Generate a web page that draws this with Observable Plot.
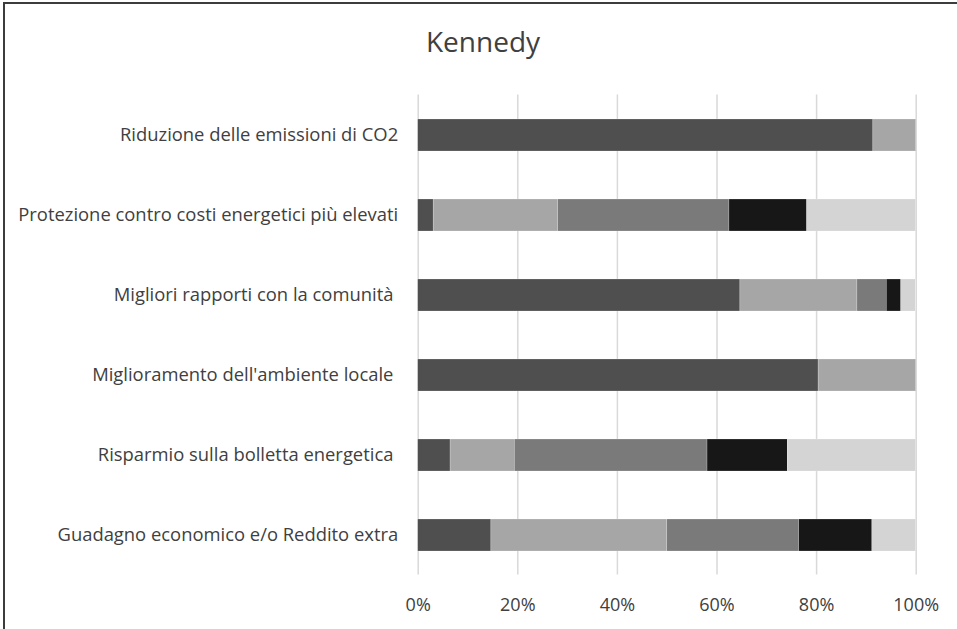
<!DOCTYPE html>
<html>
<head>
<meta charset="utf-8">
<script src="https://cdn.jsdelivr.net/npm/d3@7"></script>
<script src="https://cdn.jsdelivr.net/npm/@observablehq/plot@0.6"></script>
<style>
  html, body { margin: 0; padding: 0; background: #fff; overflow: hidden; }
  #wrap { position: relative; width: 957px; height: 629px; overflow: hidden; background: #fff; }
  #frame { position: absolute; left: 3px; top: 2px; width: 1200px; height: 900px; border-left: 2px solid #3c3c3c; border-top: 2px solid #3c3c3c; }
  #title { position: absolute; left: 0; width: 966px; top: 22px; text-align: center; font-family: "Open Sans", sans-serif; font-size: 28px; color: #404040; }
  #chart { position: absolute; left: 0; top: 80px; }
  #chart svg text { white-space: pre; }
</style>
</head>
<body>
<div id="wrap">
  <div id="frame"></div>
  <div id="title">Kennedy</div>
  <div id="chart"></div>
</div>
<script>
const categories = [
  "Riduzione delle emissioni di CO2",
  "Protezione contro costi energetici più elevati",
  "Migliori rapporti con la comunità ",
  "Miglioramento dell'ambiente locale ",
  "Risparmio sulla bolletta energetica ",
  "Guadagno economico e/o Reddito extra"
];
const seriesNames = ["S1", "S2", "S3", "S4", "S5"];
const s1 = [91.4, 3.1, 64.7, 80.4, 6.5, 14.7];
const s2 = [8.6, 25.0, 23.5, 19.6, 12.9, 35.3];
const s3 = [0, 34.4, 5.9, 0, 38.7, 26.5];
const s4 = [0, 15.6, 2.9, 0, 16.1, 14.7];
const s5 = [0, 21.9, 2.9, 0, 25.8, 8.8];
const seriesColors = ["#4f4f4f", "#a6a6a6", "#7a7a7a", "#171717", "#d4d4d4"];
const xTicks = [0, 20, 40, 60, 80, 100];

const seriesValues = [s1, s2, s3, s4, s5];
const rows = [];
categories.forEach((c, i) => {
  seriesValues.forEach((arr, j) => {
    rows.push({category: c, series: seriesNames[j], value: arr[i]});
  });
});

const chart = Plot.plot({
  width: 957,
  height: 549,
  marginLeft: 417.7,
  marginRight: 41.3,
  marginTop: 14.5,
  marginBottom: 54.5,
  style: { fontFamily: "'Open Sans', sans-serif", fontSize: "18px", color: "#404040", background: "transparent" },
  x: { domain: [0, 100], ticks: xTicks, tickFormat: d => d + "%", tickSize: 0, tickPadding: 23, label: null },
  y: { domain: categories, paddingInner: 0.6, paddingOuter: 0.3, tickSize: 0, tickPadding: 20, label: null },
  color: { domain: seriesNames, range: seriesColors },
  marks: [
    Plot.gridX(xTicks, { stroke: "#d9d9d9", strokeOpacity: 1, strokeWidth: 1.5 }),
    Plot.barX(rows, Plot.stackX({ y: "category", x: "value", fill: "series", stroke: "#ffffff", strokeWidth: 0.4, strokeOpacity: 0.5 })),
    Plot.axisX({ ticks: xTicks, tickFormat: d => d + "%", tickSize: 0, tickPadding: 23, fill: "#404040", fontSize: 18, label: null }),
    Plot.axisY({ tickSize: 0, tickPadding: 20, fill: "#404040", fontSize: 18.4, label: null })
  ]
});
document.getElementById("chart").appendChild(chart);
</script>
</body>
</html>
